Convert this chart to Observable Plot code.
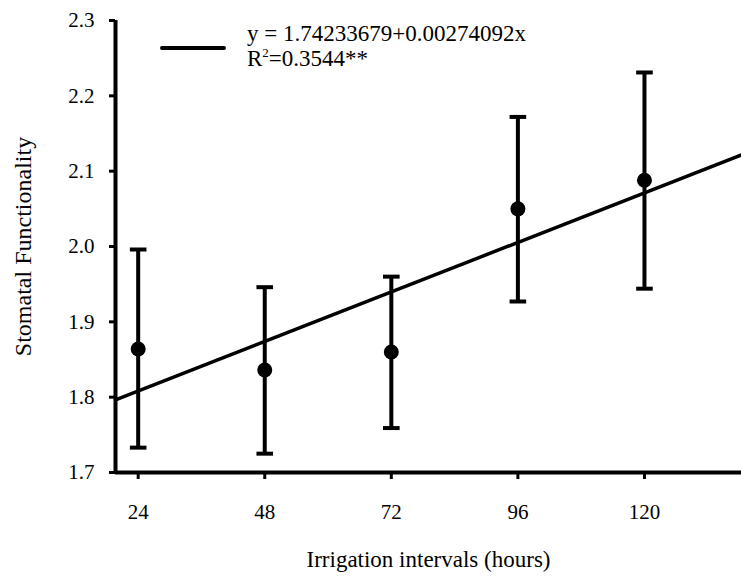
<!DOCTYPE html>
<html>
<head>
<meta charset="utf-8">
<script src="https://cdn.jsdelivr.net/npm/d3@7"></script>
<script src="https://cdn.jsdelivr.net/npm/@observablehq/plot@0.6"></script>
<style>
  html, body { margin: 0; padding: 0; background: #fff; }
  #wrap { position: relative; width: 741px; height: 577px; font-family: "Liberation Serif", serif; color: #000; }
  #wrap > svg { position: absolute; left: 0; top: 0; margin: 0; }
  #legline { position: absolute; left: 160px; top: 46px; width: 66px; height: 4px; background: #000; border-radius: 2px; }
  #legtext { position: absolute; left: 247px; top: 21px; font-size: 23px; line-height: 25px; white-space: nowrap; }
  #legtext sup { font-size: 13px; vertical-align: 0; position: relative; top: -9px; }
</style>
</head>
<body>
<div id="wrap"></div>
<script>
// ---- data ----
const hours = [24, 48, 72, 96, 120];
const means = [1.864, 1.836, 1.860, 2.050, 2.088];
const lower = [1.733, 1.725, 1.759, 1.927, 1.944];
const upper = [1.996, 1.946, 1.960, 2.172, 2.231];
const xTickLabels = [24, 48, 72, 96, 120];
const yTickLabels = [1.7, 1.8, 1.9, 2.0, 2.1, 2.2, 2.3];
const intercept = 1.74233679;
const slope = 0.00274092;
const equationText = "y = 1.74233679+0.00274092x";
const r2Text = "0.3544**";
const xTitle = "Irrigation intervals (hours)";
const yTitle = "Stomatal Functionality";

const rows = hours.map((h, i) => ({h, mean: means[i], lo: lower[i], hi: upper[i]}));

const xDomain = [19.7, 138.4];
const yDomain = [1.7, 2.3];

// capped horizontal symbol for error bar ends
const capSymbol = {
  draw(context, size) {
    const r = Math.sqrt(size / Math.PI);
    context.moveTo(-r, 0);
    context.lineTo(r, 0);
  }
};

const lineData = xDomain.map(x => ({x, y: intercept + slope * x}));

const chart = Plot.plot({
  width: 741, height: 577,
  marginLeft: 115, marginRight: 0, marginTop: 20, marginBottom: 105,
  style: {fontFamily: "Liberation Serif, serif", fontSize: "21px", color: "#000", background: "#fff", overflow: "visible"},
  x: {domain: xDomain},
  y: {domain: yDomain},
  marks: [
    Plot.axisY({ticks: yTickLabels, tickSize: 6, tickPadding: 15, strokeWidth: 3,
      tickFormat: d3.format(".1f"), fontSize: 21}),
    Plot.axisY({ticks: [], label: yTitle, labelAnchor: "center", labelArrow: "none",
      labelOffset: 102, fontSize: 24, dy: 5}),
    Plot.axisX({ticks: xTickLabels, tickSize: 7, tickPadding: 25, strokeWidth: 3,
      tickFormat: d => String(d), fontSize: 21}),
    Plot.axisX({ticks: [], label: xTitle, labelAnchor: "center", labelArrow: "none",
      labelOffset: 94, fontSize: 23, dx: 5}),
    Plot.ruleX([xDomain[0]], {strokeWidth: 4}),
    Plot.ruleY([yDomain[0]], {strokeWidth: 4}),
    Plot.line(lineData, {x: "x", y: "y", stroke: "#000", strokeWidth: 3.5}),
    Plot.ruleX(rows, {x: "h", y1: "lo", y2: "hi", stroke: "#000", strokeWidth: 4}),
    Plot.dot(rows, {x: "h", y: "hi", symbol: capSymbol, r: 8.3, stroke: "#000", strokeWidth: 4, fill: "none"}),
    Plot.dot(rows, {x: "h", y: "lo", symbol: capSymbol, r: 8.3, stroke: "#000", strokeWidth: 4, fill: "none"}),
    Plot.dot(rows, {x: "h", y: "mean", r: 7.5, fill: "#000", stroke: "none"})
  ]
});

const wrap = document.getElementById("wrap");
wrap.appendChild(chart);

const legLine = document.createElement("div");
legLine.id = "legline";
wrap.appendChild(legLine);
const legText = document.createElement("div");
legText.id = "legtext";
legText.innerHTML = equationText + "<br>R<sup>2</sup>=" + r2Text;
wrap.appendChild(legText);
</script>
</body>
</html>
